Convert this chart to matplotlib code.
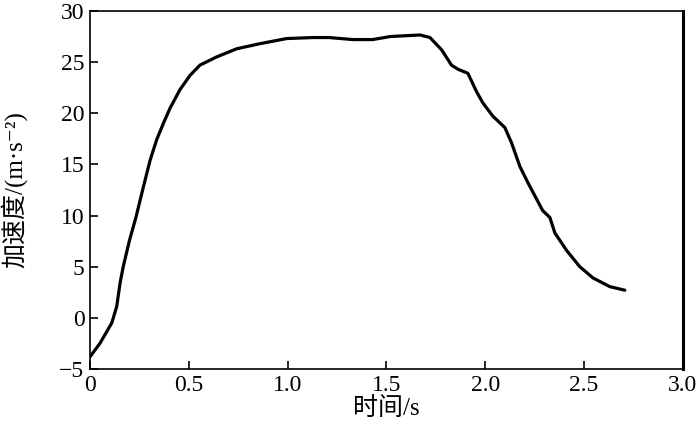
import matplotlib.pyplot as plt
import numpy as np

plt.rcParams['font.family'] = ['Liberation Serif', 'Noto Sans CJK SC', 'DejaVu Sans']

# time (s) and acceleration (m/s^2)
t = [0.0, 0.05, 0.11, 0.135, 0.152, 0.168, 0.2, 0.232, 0.27, 0.304, 0.337,
     0.371, 0.405, 0.455, 0.506, 0.556, 0.64, 0.742, 0.86, 0.995, 1.13,
     1.21, 1.33, 1.43, 1.52, 1.67, 1.70, 1.72, 1.779, 1.829, 1.862, 1.912,
     1.956, 1.988, 2.039, 2.099, 2.133, 2.175, 2.216, 2.29, 2.327, 2.352,
     2.411, 2.478, 2.545, 2.63, 2.706]
acc = [-3.8, -2.5, -0.5, 1.1, 3.4, 5.0, 7.6, 9.8, 12.8, 15.4, 17.4,
       19.0, 20.5, 22.3, 23.7, 24.7, 25.5, 26.3, 26.8, 27.3, 27.4,
       27.4, 27.2, 27.2, 27.5, 27.65, 27.5, 27.4, 26.2, 24.7, 24.3, 23.9,
       22.1, 21.0, 19.7, 18.6, 17.1, 14.8, 13.2, 10.5, 9.8, 8.3,
       6.6, 5.0, 3.9, 3.05, 2.7]

xticks = [0, 0.5, 1.0, 1.5, 2.0, 2.5, 3.0]
xlabels = ['0', '0.5', '1.0', '1.5', '2.0', '2.5', '3.0']
yticks = [-5, 0, 5, 10, 15, 20, 25, 30]
ylabels = ['\u22125', '0', '5', '10', '15', '20', '25', '30']

fig = plt.figure(figsize=(7, 4.34), dpi=100)
ax = fig.add_axes([0.1286, 0.1498, 0.847, 0.825])

ax.plot(t, acc, color='black', lw=2.3, solid_capstyle='round',
        solid_joinstyle='round')

ax.set_xlim(0, 3.0)
ax.set_ylim(-5, 30)
ax.set_xticks(xticks)
ax.set_xticklabels(xlabels)
ax.set_yticks(yticks)
ax.set_yticklabels(ylabels)
ax.tick_params(direction='in', length=6, width=1.2, labelsize=17,
               top=False, right=False, pad=4)

for s in ax.spines.values():
    s.set_linewidth(1.2)
ax.spines['right'].set_linewidth(2.2)

ax.set_xlabel('时间/s', fontsize=18, labelpad=1)
ax.set_ylabel('加速度/(m·s\u207b\u00b2)', fontsize=18)
ax.yaxis.set_label_coords(-0.106, 0.5)

fig.savefig('out.png', dpi=100)
